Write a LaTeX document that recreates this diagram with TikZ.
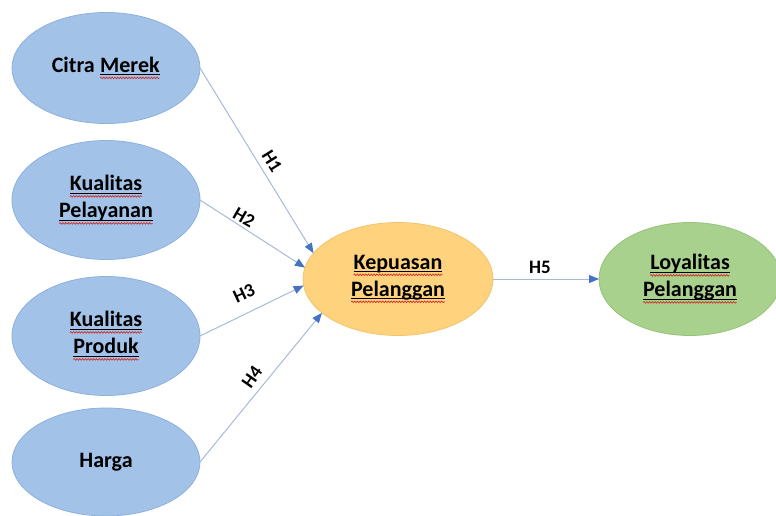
\documentclass[tikz,border=0pt]{standalone}
\usepackage{fontspec}
\setmainfont{Carlito}
\usetikzlibrary{shapes.geometric,arrows.meta,decorations.pathmorphing}
\definecolor{bluefill}{HTML}{A2C2E8}
\definecolor{blueline}{HTML}{8DB0DC}
\definecolor{orangefill}{HTML}{FFD27E}
\definecolor{orangeline}{HTML}{F2C46E}
\definecolor{greenfill}{HTML}{A9D18E}
\definecolor{greenline}{HTML}{97C27A}
\definecolor{arrline}{HTML}{A7B9DB}
\definecolor{arrhead}{HTML}{4472C4}
\definecolor{spellred}{HTML}{D0302C}
\newcommand\spw[1]{\tikz[baseline=(w.base)]{\node[rectangle,draw=none,fill=none,minimum width=0pt,minimum height=0pt,inner sep=0pt,outer sep=0pt,rotate=0,align=left](w){#1};
 \draw[line width=1pt,draw=black] ([yshift=-2.4pt]w.base west) -- ([yshift=-2.4pt]w.base east);
 \draw[draw=spellred,line width=0.7pt,decorate,decoration={snake,amplitude=0.8pt,segment length=2.8pt}] ([yshift=-5.5pt]w.base west) -- ([yshift=-5.5pt]w.base east);}}
\tikzset{
  ell/.style={ellipse,inner sep=0pt,outer sep=0pt,align=center,
    font=\bfseries\fontsize{22}{27}\selectfont,line width=0.8pt},
  blueell/.style={ell,fill=bluefill,draw=blueline},
  orangeell/.style={ell,fill=orangefill,draw=orangeline},
  greenell/.style={ell,fill=greenfill,draw=greenline},
  conn/.style={draw=arrline,line width=1pt,-{Triangle[length=10pt,width=8pt,fill=arrhead,color=arrhead]}},
  hlab/.style={font=\bfseries\fontsize{19}{21}\selectfont,inner sep=0pt}
}
\begin{document}
\begin{tikzpicture}[x=1pt,y=-1pt]
\useasboundingbox (0,0) rectangle (776,516);
\clip (0,0) rectangle (776,516);
\node[blueell,minimum width=188pt,minimum height=111pt] (cm) at (106,68) {Citra \spw{Merek}};
\node[blueell,minimum width=188pt,minimum height=119pt] (kp) at (106,200) {\spw{Kualitas}\\\spw{Pelayanan}};
\node[blueell,minimum width=188pt,minimum height=119pt] (pr) at (106,336) {\spw{Kualitas}\\\spw{Produk}};
\node[blueell,minimum width=188pt,minimum height=108pt] (hg) at (106,462) {Harga};
\node[orangeell,minimum width=190pt,minimum height=113pt] (kep) at (398,279) {\spw{Kepuasan}\\\spw{Pelanggan}};
\node[greenell,minimum width=182pt,minimum height=113pt] (loy) at (690,279) {\spw{Loyalitas}\\\spw{Pelanggan}};
\draw[conn] (cm.east) -- (kep.163);
\draw[conn] (kp.east) -- (kep.173);
\draw[conn] (pr.east) -- (kep.184);
\draw[conn] (hg.east) -- (kep.204);
\draw[conn] (kep.east) -- (loy.west);
\node[hlab,rotate=-58] (h1) at (272,161) {H1};
\node[hlab,rotate=-30] (h2) at (244,218) {H2};
\node[hlab,rotate=25] (h3) at (244,293) {H3};
\node[hlab,rotate=55] (h4) at (252,377) {H4};
\node[hlab] (h5) at (540,267) {H5};
\end{tikzpicture}
\end{document}
